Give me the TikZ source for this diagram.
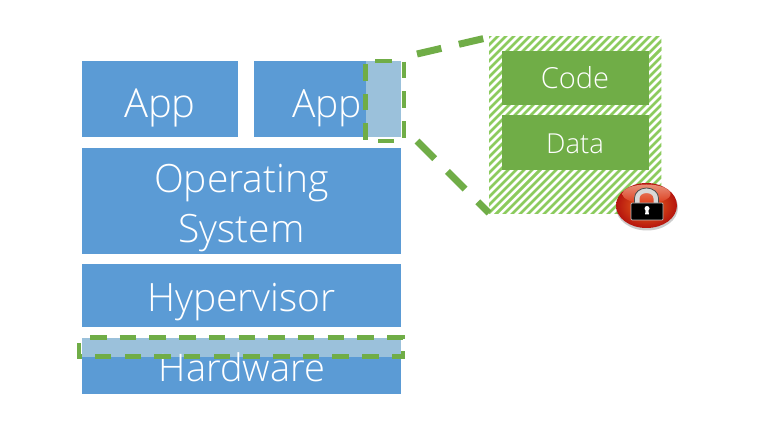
\documentclass[tikz,border=0pt]{standalone}
\usepackage{fontspec}
\setmainfont{Open Sans Light}
\usetikzlibrary{shadings,calc}
\definecolor{bluebox}{HTML}{5B9BD5}
\definecolor{paleblue}{HTML}{9BC1DB}
\definecolor{greenbox}{HTML}{70AD47}
\definecolor{hatch}{HTML}{8CCB5E}
\definecolor{ballin}{HTML}{F0701E}
\definecolor{ballout}{HTML}{B5140E}
\definecolor{balltop}{HTML}{F2A58C}
\definecolor{ballmid}{HTML}{DE3A1C}
\tikzset{
  x=1pt,y=-1pt,
  block/.style={fill=bluebox,draw=none,inner sep=0pt,anchor=north west},
  lab/.style={text=white,inner sep=0pt,anchor=base},
  inner/.style={fill=greenbox,draw=none,inner sep=0pt,minimum width=147pt,anchor=north west},
  dashbox/.style={draw=greenbox,line width=4.5pt,dash pattern=on 16.5pt off 13.2pt},
  callout/.style={draw=greenbox,line width=7pt,dash pattern=on 25pt off 18pt},
}
\begin{document}
\begin{tikzpicture}
\useasboundingbox (0,0) rectangle (760,430);
\fill[white] (0,0) rectangle (760,430);
% blocks
\node[block,minimum width=156pt,minimum height=76pt] (app1) at (82,61) {};
\node[block,minimum width=147pt,minimum height=76pt] (app2) at (254,61) {};
\node[block,minimum width=319pt,minimum height=106pt] (os) at (82,148) {};
\node[block,minimum width=319pt,minimum height=63pt] (hyper) at (82,264) {};
\node[block,minimum width=319pt,minimum height=56pt] (hw) at (82,338) {};
% pale regions
\node[fill=paleblue,inner sep=0pt,minimum width=35pt,minimum height=76pt,anchor=north west] (enc) at (366,61) {};
\node[fill=paleblue,inner sep=0pt,minimum width=319pt,minimum height=19pt,anchor=north west] (band) at (82,338) {};
% labels
\node[lab,font=\fontsize{40}{40}\selectfont] (tapp1) at (160,118) {App};
\node[lab,font=\fontsize{39}{39}\selectfont] (tapp2) at (327,118) {App};
\node[lab,font=\fontsize{39}{39}\selectfont] (tos1) at (241.5,193) {Operating};
\node[lab,font=\fontsize{39}{39}\selectfont] (tos2) at (241.5,243) {System};
\node[lab,font=\fontsize{39}{39}\selectfont] (thyper) at (241.5,311) {Hypervisor};
\node[lab,font=\fontsize{38}{38}\selectfont] (thw) at (242,381) {Hardware};
% dashed outlines
\coordinate (e1) at (375,61);
\coordinate (e2) at (404,61);
\coordinate (e3) at (404,141);
\coordinate (e4) at (365.5,141);
\coordinate (e5) at (365.5,61);
\draw[dashbox] (e1) -- (e2) -- (e3) -- (e4) -- (e5) -- (e1);
\coordinate (b1) at (90,337.5);
\coordinate (b2) at (403,337.5);
\coordinate (b3) at (403,356.5);
\coordinate (b4) at (79,356.5);
\coordinate (b5) at (79,339);
\draw[dashbox] (b1) -- (b2) -- (b3) -- (b4) -- (b5);
% hatch panel
\node[inner sep=0pt,minimum width=172pt,minimum height=176pt,anchor=north west] (panel) at (489,37) {};
\begin{scope}
\clip (panel.north west) rectangle (panel.south east);
\foreach \k in {0,8,...,360}{
  \draw[hatch,line width=2.7pt] (489+\k,213+8) -- +(190,-190);
  \draw[hatch,line width=2.7pt] (489-\k,213+8) -- +(190,-190);
}
\end{scope}
\node[inner,minimum height=54pt] (code) at (502,51) {};
\node[inner,minimum height=55pt] (data) at (502,115) {};
\node[lab,font=\fontsize{29}{29}\selectfont] (tcode) at (575,89) {Code};
\node[lab,font=\fontsize{27.5}{27.5}\selectfont] (tdata) at (575,154) {Data};
% callouts
\coordinate (c1) at (417,54);
\coordinate (c2) at (486,38);
\coordinate (c3) at (417,141);
\coordinate (c4) at (489,213);
\draw[callout] (c1) -- (c2);
\draw[callout] (c3) -- (c4);
% lock
\fill[black,opacity=.2] (647,207.5) ellipse (31 and 23);
\shade[inner color=ballin,outer color=ballout] (646.5,205.5) ellipse (30.5 and 22.5);
\shade[top color=balltop,bottom color=ballmid,opacity=.85] (646.5,194) ellipse (24 and 9.5);
\draw[line width=5pt,draw=gray!30!white] (637,205) -- (637,198) arc[start angle=180,end angle=0,x radius=9.5,y radius=-7.5] -- (656,205);
\draw[line width=.8pt,black!70] (634.5,205) -- (634.5,198) arc[start angle=180,end angle=0,x radius=12,y radius=-10] -- (658.5,205);
\fill[black,draw=gray!50!white,line width=.7pt,rounded corners=1pt] (631,203) rectangle (663,220);
\fill[white] (647,208.5) circle (2.5);
\fill[white] (645.9,209) -- (648.1,209) -- (649,214.5) -- (645,214.5) -- cycle;
\end{tikzpicture}
\end{document}
